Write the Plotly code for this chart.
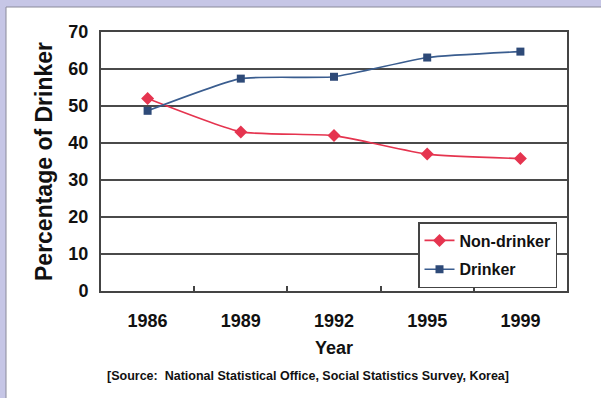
import plotly.graph_objects as go

# Survey years and drinking rates (%)
years = ["1986", "1989", "1992", "1995", "1999"]
non_drinker = [52.0, 43.0, 42.0, 37.0, 35.8]
drinker = [48.7, 57.4, 57.9, 63.1, 64.7]

series_names = ["Non-drinker", "Drinker"]
y_ticks = [0, 10, 20, 30, 40, 50, 60, 70]
source_note = "[Source:  National Statistical Office, Social Statistics Survey, Korea]"

FONT = "Liberation Sans, Arial, sans-serif"
RED = "#E5344F"
BLUE = "#3A5D8F"

fig = go.Figure()
fig.add_trace(go.Scatter(
    x=years, y=non_drinker, name=series_names[0], legendgroup="a",
    mode="lines+markers",
    line=dict(color=RED, width=1.6, shape="spline", smoothing=0.5),
    marker=dict(symbol="diamond", size=10, color=RED),
))
fig.add_trace(go.Scatter(
    x=years, y=drinker, name=series_names[1], legendgroup="b",
    mode="lines+markers",
    line=dict(color=BLUE, width=1.6, shape="spline", smoothing=0.5),
    marker=dict(symbol="square", size=8, color="#2E4A78"),
))

# plot area spans x 101..567, y 32..291 of the 601x398 page
L, R, T, B = 101, 34, 32, 107
W = 601 - L - R
H = 398 - T - B

def px(x):
    return (x - L) / W

def py(y):
    return (398 - B - y) / H

fig.update_layout(
    width=601, height=398,
    margin=dict(l=L, r=R, t=T, b=B),
    paper_bgcolor="#C6C6E6",
    plot_bgcolor="white",
    font=dict(family=FONT, color="#111111", size=16, weight="bold"),
    showlegend=True,
    legend=dict(
        x=px(418), y=py(222), xanchor="left", yanchor="top",
        bgcolor="white", bordercolor="#444444", borderwidth=1.5,
        font=dict(size=16, family=FONT, weight="bold", color="#111111"),
        tracegroupgap=5,
        itemwidth=30,
    ),
    shapes=[dict(
        type="rect", xref="paper", yref="paper", layer="below",
        x0=px(6), x1=px(605), y0=py(402), y1=py(7),
        fillcolor="white", line=dict(color="#8A8A9A", width=1),
    )],
    annotations=[dict(
        text=source_note, xref="paper", yref="paper",
        x=px(308), y=py(376), xanchor="center", yanchor="middle",
        showarrow=False,
        font=dict(size=12.5, family=FONT, weight="bold", color="#111111"),
    )],
)

fig.update_xaxes(
    type="category",
    categoryorder="array", categoryarray=years,
    range=[-0.5, 4.5],
    showgrid=False, zeroline=False,
    showline=True, linecolor="#444444", linewidth=2, mirror=True,
    ticks="inside", tickson="boundaries", ticklen=5, tickwidth=1.5, tickcolor="#444444",
    ticklabelstandoff=12,
    tickfont=dict(size=18, family=FONT, weight="bold", color="#111111"),
    title=dict(text="Year", standoff=12,
               font=dict(size=18, family=FONT, weight="bold", color="#111111")),
)
fig.update_yaxes(
    range=[0, 70], tickvals=y_ticks,
    showgrid=True, gridcolor="#4A4A4A", gridwidth=1.6,
    zeroline=False,
    showline=True, linecolor="#444444", linewidth=2, mirror=True,
    ticks="", ticklabelstandoff=7,
    tickfont=dict(size=18, family=FONT, weight="bold", color="#111111"),
    title=dict(text="Percentage of Drinker", standoff=9,
               font=dict(size=23, family=FONT, weight="bold", color="#111111")),
)

fig.write_html("out.html")
